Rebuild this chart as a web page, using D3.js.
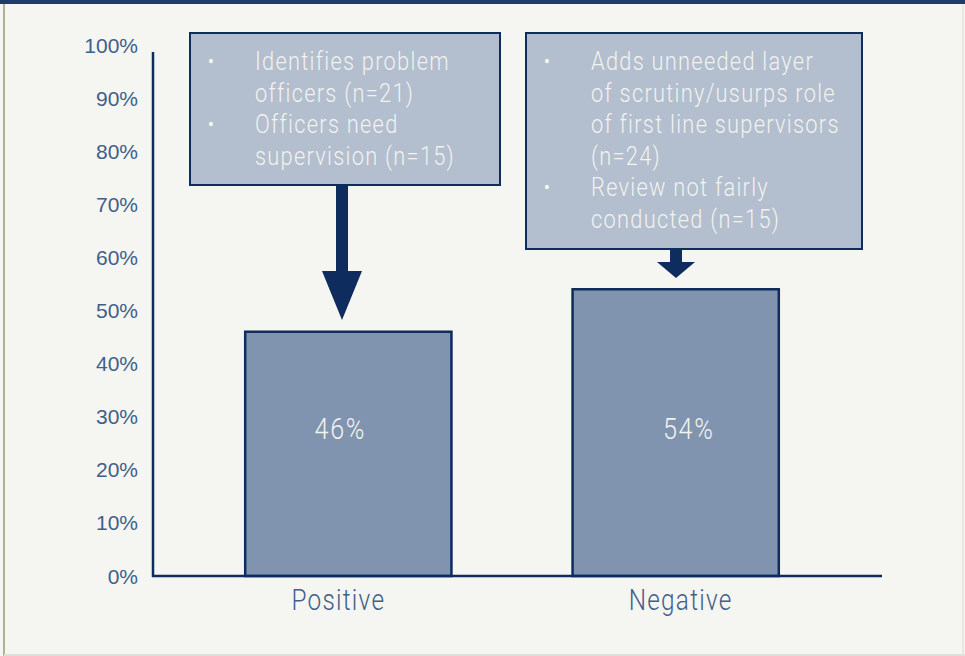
<!DOCTYPE html>
<html>
<head>
<meta charset="utf-8">
<script src="https://cdn.jsdelivr.net/npm/d3@7"></script>
<style>
  html, body { margin: 0; padding: 0; background: #f5f5f1; }
  svg { display: block; }
  text { font-family: "Liberation Sans", Arial, sans-serif; }
  .narrow { font-family: Roboto, "Liberation Sans", sans-serif; font-weight: 300; }
</style>
</head>
<body>
<div id="chart"></div>
<script>
// Chart data
const categories = ['Positive', 'Negative'];
const values = [46, 54];
const yTicks = [0, 10, 20, 30, 40, 50, 60, 70, 80, 90, 100];

// Callout bullets (already wrapped into lines)
const positiveNotes = [
  ['Identifies problem', 'officers (n=21)'],
  ['Officers need', 'supervision (n=15)']
];
const negativeNotes = [
  ['Adds unneeded layer', 'of scrutiny/usurps role', 'of first line supervisors', '(n=24)'],
  ['Review not fairly', 'conducted (n=15)']
];

const W = 965, H = 656;
const navy = '#0e2c5e';
const labelBlue = '#3f5f8b';
const paleText = '#f2f2ee';
const squeeze = 0.84;

const svg = d3.select('#chart').append('svg')
  .attr('width', W)
  .attr('height', H);

// condensed looking text: draw at origin, then squeeze horizontally
function narrowText(parent, x, y, str, size, fill, anchor, spacing) {
  return parent.append('text')
    .attr('class', 'narrow')
    .attr('transform', `translate(${x},${y}) scale(${squeeze},1)`)
    .attr('dy', '0.36em')
    .attr('text-anchor', anchor || 'start')
    .attr('font-size', size)
    .attr('letter-spacing', spacing || 0)
    .attr('fill', fill)
    .text(str);
}

// frame
svg.append('rect').attr('x', 0).attr('y', 0).attr('width', W).attr('height', H).attr('fill', '#f5f5f1');
svg.append('rect').attr('x', 0).attr('y', 0).attr('width', W).attr('height', 4).attr('fill', '#1d3b6b');
svg.append('line').attr('x1', 4).attr('x2', 4).attr('y1', 4).attr('y2', H)
  .attr('stroke', '#aeb296').attr('stroke-width', 2);
svg.append('line').attr('x1', 4).attr('x2', W).attr('y1', 655).attr('y2', 655)
  .attr('stroke', '#dfdfd6').attr('stroke-width', 2);
svg.append('line').attr('x1', 963).attr('x2', 963).attr('y1', 4).attr('y2', H)
  .attr('stroke', '#e3e3da').attr('stroke-width', 1.5);

// scales
const y = d3.scaleLinear().domain([0, 100]).range([576, 45]);
const x = d3.scaleBand().domain(categories).range([147, 877])
  .paddingInner(0.37).paddingOuter(0.3);

// y tick labels
svg.append('g').selectAll('text')
  .data(yTicks)
  .enter().append('text')
  .attr('x', 138)
  .attr('y', d => y(d))
  .attr('dy', '0.36em')
  .attr('text-anchor', 'end')
  .attr('font-size', 21)
  .attr('fill', labelBlue)
  .text(d => d + '%');

// bars
svg.append('g').selectAll('rect')
  .data(values)
  .enter().append('rect')
  .attr('x', (d, i) => x(categories[i]))
  .attr('y', d => y(d))
  .attr('width', x.bandwidth())
  .attr('height', d => y(0) - y(d))
  .attr('fill', '#8094b0')
  .attr('stroke', navy)
  .attr('stroke-width', 2.5);

// value labels
const valueOffsets = [-8, 13];
const valueG = svg.append('g');
values.forEach((v, i) => {
  narrowText(valueG, x(categories[i]) + x.bandwidth() / 2 + valueOffsets[i], 428,
    v + '%', 30, paleText, 'middle', 2);
});

// axes lines
svg.append('line').attr('x1', 153).attr('x2', 153).attr('y1', 52).attr('y2', y(0) + 1)
  .attr('stroke', navy).attr('stroke-width', 2.5);
svg.append('line').attr('x1', 152).attr('x2', 882).attr('y1', y(0)).attr('y2', y(0))
  .attr('stroke', navy).attr('stroke-width', 2.5);

// category labels
const catOffsets = [-10, 5];
const catG = svg.append('g');
categories.forEach((c, i) => {
  narrowText(catG, x(c) + x.bandwidth() / 2 + catOffsets[i], 600,
    c, 29, labelBlue, 'middle', 1.5);
});

// callouts
function callout(notes, box, textX, arrow) {
  const g = svg.append('g');
  g.append('rect')
    .attr('x', box.x).attr('y', box.y)
    .attr('width', box.w).attr('height', box.h)
    .attr('fill', '#b3bece')
    .attr('stroke', navy)
    .attr('stroke-width', 2);
  let line = 0;
  notes.forEach(item => {
    g.append('circle')
      .attr('cx', box.x + 21)
      .attr('cy', box.y + 28 + line * 31.5)
      .attr('r', 2.2)
      .attr('fill', paleText);
    item.forEach(t => {
      narrowText(g, textX, box.y + 28 + line * 31.5, t, 26, paleText, 'start', 1.5);
      line++;
    });
  });
  // arrow: shaft + head
  const a = arrow;
  g.append('path')
    .attr('d', `M${a.cx - 6},${box.y + box.h} L${a.cx + 6},${box.y + box.h} L${a.cx + 6},${a.headY} ` +
      `L${a.cx + a.hw},${a.headY} L${a.cx},${a.tipY} L${a.cx - a.hw},${a.headY} L${a.cx - 6},${a.headY} Z`)
    .attr('fill', navy);
}

callout(positiveNotes, { x: 190, y: 33, w: 310, h: 152 }, 255,
  { cx: 342, headY: 271, tipY: 320, hw: 20 });
callout(negativeNotes, { x: 526, y: 33, w: 336, h: 216 }, 591,
  { cx: 676, headY: 262, tipY: 278, hw: 19 });
</script>
</body>
</html>
